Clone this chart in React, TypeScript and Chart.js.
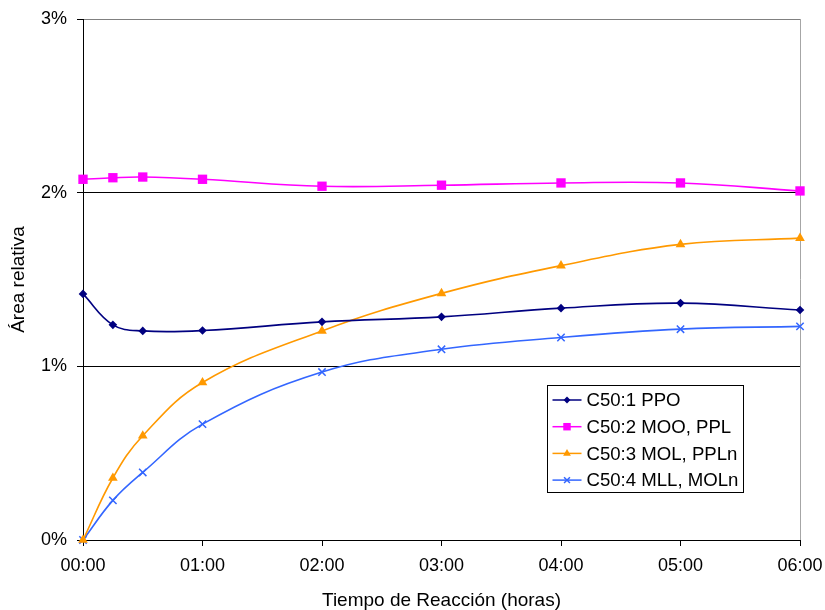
import React, { useEffect, useRef } from "react";
import { Chart, registerables } from "chart.js";

Chart.register(...registerables);

// Reaction time in hours
const timeHours = [0, 0.25, 0.5, 1, 2, 3, 4, 5, 6];
const tickLabels = ["00:00", "01:00", "02:00", "03:00", "04:00", "05:00", "06:00"];
const yTickLabels = ["0%", "1%", "2%", "3%"];

const seriesNames = ["C50:1 PPO", "C50:2 MOO, PPL", "C50:3 MOL, PPLn", "C50:4 MLL, MOLn"];
// Relative area (%)
const ppo = [1.417, 1.239, 1.204, 1.206, 1.256, 1.285, 1.335, 1.364, 1.324];
const mooPpl = [2.077, 2.086, 2.09, 2.077, 2.037, 2.043, 2.056, 2.056, 2.01];
const molPpln = [0, 0.357, 0.6, 0.907, 1.204, 1.42, 1.58, 1.702, 1.738];
const mllMoln = [0, 0.228, 0.389, 0.667, 0.967, 1.098, 1.166, 1.214, 1.23];

const colors = ["#000080", "#FF00FF", "#FF9900", "#3366FF"];
const markers = ["rectRot", "rect", "triangle", "crossRot"];
const radii = [4.3, 6.6, 5.6, 5.2];

const FONT = "'Liberation Sans', Arial, sans-serif";

function drawMarker(ctx: CanvasRenderingContext2D, style: string, x: number, y: number, r: number, color: string) {
  ctx.save();
  ctx.fillStyle = color;
  ctx.strokeStyle = color;
  ctx.lineWidth = 1.5;
  ctx.beginPath();
  if (style === "rectRot") {
    ctx.moveTo(x, y - r);
    ctx.lineTo(x + r, y);
    ctx.lineTo(x, y + r);
    ctx.lineTo(x - r, y);
    ctx.closePath();
    ctx.fill();
  } else if (style === "rect") {
    const s = r * Math.SQRT1_2;
    ctx.rect(x - s, y - s, 2 * s, 2 * s);
    ctx.fill();
  } else if (style === "triangle") {
    const a = (2 * Math.PI) / 3;
    ctx.moveTo(x, y - r);
    ctx.lineTo(x + Math.sin(a) * r, y - Math.cos(a) * r);
    ctx.lineTo(x + Math.sin(2 * a) * r, y - Math.cos(2 * a) * r);
    ctx.closePath();
    ctx.fill();
  } else {
    const d = r * Math.SQRT1_2;
    ctx.moveTo(x - d, y - d);
    ctx.lineTo(x + d, y + d);
    ctx.moveTo(x + d, y - d);
    ctx.lineTo(x - d, y + d);
    ctx.stroke();
  }
  ctx.restore();
}

const boxLegend = {
  id: "boxLegend",
  afterDraw(chart: any) {
    const ctx: CanvasRenderingContext2D = chart.ctx;
    const left = 547.5;
    const top = 385.5;
    const w = 196;
    const h = 107;
    ctx.save();
    ctx.fillStyle = "#fff";
    ctx.fillRect(left, top, w, h);
    ctx.strokeStyle = "#000";
    ctx.lineWidth = 1;
    ctx.strokeRect(left, top, w, h);
    ctx.font = `18.6px ${FONT}`;
    ctx.textBaseline = "middle";
    ctx.textAlign = "left";
    chart.data.datasets.forEach((ds: any, i: number) => {
      const y = top + 14.5 + i * 26.7;
      ctx.strokeStyle = ds.borderColor;
      ctx.lineWidth = 1.5;
      ctx.beginPath();
      ctx.moveTo(left + 5, y);
      ctx.lineTo(left + 34, y);
      ctx.stroke();
      drawMarker(ctx, ds.pointStyle, left + 19.5, y, ds.pointRadius * 0.8, ds.borderColor);
      ctx.fillStyle = "#000";
      ctx.fillText(ds.label, left + 39, y + 1);
    });
    ctx.restore();
  },
};

export default function App() {
  const canvasRef = useRef<HTMLCanvasElement | null>(null);

  useEffect(() => {
    document.body.style.margin = "0";
    const canvas = canvasRef.current;
    if (!canvas) return;
    const allSeries = [ppo, mooPpl, molPpln, mllMoln];
    const chart = new Chart(canvas, {
      type: "line",
      data: {
        datasets: allSeries.map((vals, i) => ({
          label: seriesNames[i],
          data: vals.map((v, j) => ({ x: timeHours[j], y: v })),
          borderColor: colors[i],
          backgroundColor: colors[i],
          pointBackgroundColor: colors[i],
          pointBorderColor: colors[i],
          pointStyle: markers[i] as any,
          pointRadius: radii[i],
          pointBorderWidth: markers[i] === "crossRot" ? 1.5 : 0,
          borderWidth: 1.6,
          tension: 0.4,
          cubicInterpolationMode: "default",
          clip: false as any,
          fill: false,
        })),
      },
      options: {
        responsive: false,
        animation: false,
        maintainAspectRatio: false,
        layout: { padding: { left: 0, right: 25, top: 19, bottom: 0 } },
        plugins: {
          legend: { display: false },
          tooltip: { enabled: false },
        },
        scales: {
          x: {
            type: "linear",
            min: 0,
            max: 6,
            afterFit: (scale: any) => {
              scale.height = 70;
              scale.paddingLeft = 0;
              scale.paddingRight = 0;
            },
            afterBuildTicks: (scale: any) => {
              scale.ticks = tickLabels.map((_, i) => ({ value: i }));
            },
            ticks: {
              autoSkip: false,
              maxRotation: 0,
              padding: 9,
              color: "#000",
              font: { family: FONT, size: 18 },
              callback: (v: any) => tickLabels[Math.round(Number(v))],
            },
            grid: {
              drawOnChartArea: true,
              color: (c: any) => (c.tick && c.tick.value === 6 ? "#a6a6a6" : "rgba(0,0,0,0)"),
              tickColor: "#000",
              tickLength: 6,
              lineWidth: 1,
            },
            border: { display: true, color: "#000", width: 1 },
            title: {
              display: true,
              text: "Tiempo de Reacción (horas)",
              color: "#000",
              font: { family: FONT, size: 19, lineHeight: 1 },
              padding: { top: 0, bottom: 0 },
            },
          },
          y: {
            type: "linear",
            min: 0,
            max: 3,
            afterFit: (scale: any) => {
              scale.width = 83;
              scale.paddingTop = 0;
              scale.paddingBottom = 0;
            },
            afterBuildTicks: (scale: any) => {
              scale.ticks = yTickLabels.map((_, i) => ({ value: i }));
            },
            ticks: {
              padding: 10,
              color: "#000",
              font: { family: FONT, size: 18 },
              callback: (v: any) => yTickLabels[Math.round(Number(v))],
            },
            grid: {
              color: (c: any) => (c.tick && c.tick.value === 3 ? "#808080" : "#000"),
              tickColor: "#000",
              tickLength: 6,
              lineWidth: 1,
            },
            border: { display: true, color: "#000", width: 1 },
            title: {
              display: true,
              text: "Área relativa",
              color: "#000",
              font: { family: FONT, size: 19, lineHeight: 1.2 },
              padding: { top: 7, bottom: 4 },
            },
          },
        },
      },
      plugins: [boxLegend],
    });
    return () => chart.destroy();
  }, []);

  return (
    <div style={{ width: 825, height: 610, background: "#fff" }}>
      <canvas ref={canvasRef} width={825} height={610} style={{ display: "block" }} />
    </div>
  );
}
